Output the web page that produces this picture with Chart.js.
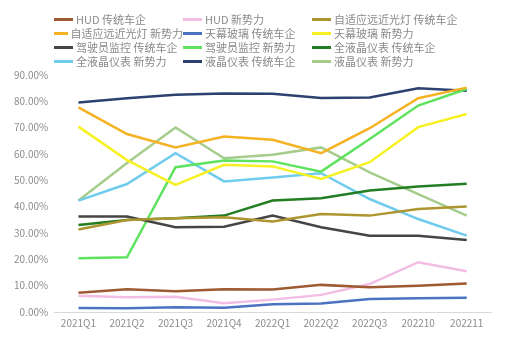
<html>
<head>
    <title>Smart cockpit penetration</title>
    <script src="https://cdn.jsdelivr.net/npm/chart.js@4.4.0/dist/chart.umd.min.js"></script>
    <style>
        body { margin: 0; background: #fff; font-family: "Noto Sans CJK SC", "Noto Sans", sans-serif; }
        #wrap { position: relative; width: 515px; height: 346px; }
        #legend { position: absolute; left: 54px; top: 12px; display: grid;
                  grid-template-columns: 129px 129px 160px; row-gap: 0px; }
        .item { display: flex; align-items: center; height: 14px; font-size: 11px; color: #8a8a8a; white-space: nowrap; }
        .swatch { width: 19px; height: 3px; margin-right: 3px; }
    </style>
</head>
<body>
<div id="wrap">
    <canvas id="cockpitChart" width="515" height="346"></canvas>
    <div id="legend"></div>
</div>
<script>
    var quarters = ["2021Q1", "2021Q2", "2021Q3", "2021Q4", "2022Q1", "2022Q2", "2022Q3", "202210", "202211"];
    var yTicks = [0, 10, 20, 30, 40, 50, 60, 70, 80, 90];

    var hudOld = [7.3, 8.6, 7.9, 8.6, 8.5, 10.3, 9.4, 10.0, 10.8];
    var hudNew = [6.2, 5.6, 5.8, 3.3, 4.7, 6.5, 10.6, 18.9, 15.5];
    var lampOld = [31.3, 34.9, 35.6, 36.0, 34.4, 37.2, 36.6, 39.1, 40.1];
    var lampNew = [77.7, 67.6, 62.5, 66.6, 65.4, 60.3, 69.8, 81.2, 85.2];
    var roofOld = [1.5, 1.4, 1.8, 1.6, 2.9, 3.2, 4.9, 5.2, 5.4];
    var roofNew = [70.4, 57.7, 48.3, 55.9, 55.3, 50.5, 56.9, 70.2, 75.2];
    var dmsOld = [36.3, 36.3, 32.2, 32.4, 36.6, 32.2, 29.0, 29.0, 27.3];
    var dmsNew = [20.4, 20.8, 55.0, 57.5, 57.2, 53.3, 65.7, 78.4, 84.7];
    var fullLcdOld = [33.0, 34.9, 35.6, 36.6, 42.3, 43.2, 46.1, 47.7, 48.7];
    var fullLcdNew = [42.3, 48.6, 60.3, 49.6, 51.1, 52.7, 42.9, 35.3, 29.0];
    var lcdOld = [79.6, 81.2, 82.5, 83.0, 82.9, 81.3, 81.5, 85.0, 84.0];
    var lcdNew = [42.3, 56.6, 70.1, 58.4, 59.7, 62.5, 53.0, 44.8, 36.6];

    var seriesNames = ["HUD 传统车企", "HUD 新势力", "自适应远近光灯 传统车企",
        "自适应远近光灯 新势力", "天幕玻璃 传统车企", "天幕玻璃 新势力",
        "驾驶员监控 传统车企", "驾驶员监控 新势力", "全液晶仪表 传统车企",
        "全液晶仪表 新势力", "液晶仪表 传统车企", "液晶仪表 新势力"];
    var seriesValues = [hudOld, hudNew, lampOld, lampNew, roofOld, roofNew,
        dmsOld, dmsNew, fullLcdOld, fullLcdNew, lcdOld, lcdNew];
    var seriesColors = ["#9e5a33", "#f2bde3", "#ad9530", "#f5b223", "#4c72c2", "#f7f123",
        "#454545", "#5fe35f", "#237d23", "#70ccec", "#2d4170", "#a6cc8c"];

    var datasets = seriesNames.map(function (name, i) {
        return {
            label: name,
            data: seriesValues[i],
            borderColor: seriesColors[i],
            backgroundColor: seriesColors[i],
            borderWidth: 2.5,
            pointRadius: 0,
            tension: 0,
            fill: false
        };
    });

    var ctx = document.getElementById("cockpitChart");
    var chart = new Chart(ctx, {
        type: 'line',
        data: { labels: quarters, datasets: datasets },
        options: {
            responsive: false,
            animation: false,
            layout: { padding: { top: 75, left: 8, right: 24, bottom: 12 } },
            plugins: { legend: { display: false }, tooltip: { enabled: false } },
            scales: {
                x: {
                    offset: true,
                    grid: { display: false, drawTicks: false },
                    border: { display: true, color: "#d9d9d9" },
                    ticks: { color: "#8c8c8c", font: { size: 10, family: "Noto Sans CJK SC" }, padding: 5, maxRotation: 0 }
                },
                y: {
                    min: 0, max: 90,
                    afterBuildTicks: function (axis) { axis.ticks = yTicks.map(function (v) { return { value: v }; }); },
                    grid: { display: false, drawTicks: false },
                    border: { display: false },
                    ticks: {
                        color: "#8c8c8c", font: { size: 10, family: "Noto Sans CJK SC" }, padding: 6,
                        callback: function (v) { return v.toFixed(2) + "%"; }
                    }
                }
            }
        }
    });

    var legend = document.getElementById("legend");
    seriesNames.forEach(function (name, i) {
        var item = document.createElement("div");
        item.className = "item";
        item.innerHTML = '<span class="swatch" style="background:' + seriesColors[i] + '"></span>' + name;
        legend.appendChild(item);
    });
</script>
</body>
</html>
